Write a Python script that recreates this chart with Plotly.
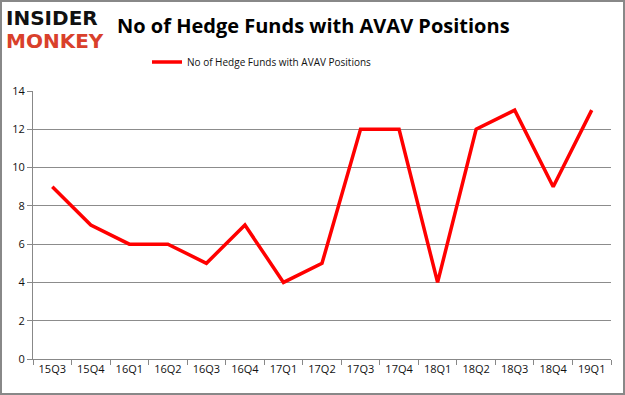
import plotly.graph_objects as go

quarters = ["15Q3", "15Q4", "16Q1", "16Q2", "16Q3", "16Q4", "17Q1", "17Q2",
            "17Q3", "17Q4", "18Q1", "18Q2", "18Q3", "18Q4", "19Q1"]
funds = [9, 7, 6, 6, 5, 7, 4, 5, 12, 12, 4, 12, 13, 9, 13]
series_name = "No of Hedge Funds with AVAV Positions"
title_text = "No of Hedge Funds with AVAV Positions"

W, H = 625, 395
L, R, T, B = 33, 14, 91, 36
PW, PH = W - L - R, H - T - B

fig = go.Figure()
fig.add_trace(go.Scatter(x=quarters, y=funds, mode="lines", name=series_name,
                         showlegend=True,
                         line=dict(color="#ff0000", width=3.5)))

fig.update_layout(
    width=W, height=H,
    margin=dict(l=L, r=R, t=T, b=B, autoexpand=False),
    paper_bgcolor="white", plot_bgcolor="white",
    font=dict(family="Open Sans, Arial", color="#222"),
    showlegend=True,
    legend=dict(orientation="h", x=(262 - L) / PW, xanchor="center",
                y=1 + (T - 62) / PH, yanchor="middle",
                font=dict(size=10, color="#111"),
                bgcolor="rgba(0,0,0,0)"),
    xaxis=dict(type="category", range=[-0.5, len(quarters) - 0.5],
               showgrid=False, showline=True, linecolor="#888",
               ticks="outside", tickson="boundaries", ticklen=5, tickcolor="#888",
               tickfont=dict(size=11, color="#111"), fixedrange=True),
    yaxis=dict(range=[0, 14], dtick=2, showgrid=True, gridcolor="#8c8c8c", gridwidth=1,
               showline=True, linecolor="#888", ticks="outside", ticklen=5,
               tickcolor="#888", zeroline=False,
               tickfont=dict(size=11, color="#111"), fixedrange=True),
)
fig.add_shape(type="rect", xref="paper", yref="paper",
              x0=-L / PW + 1 / PW, x1=1 + R / PW - 1 / PW,
              y0=-B / PH + 1 / PH, y1=1 + T / PH - 1 / PH,
              line=dict(color="#888", width=2))

fig.add_annotation(text="<b>INSIDER</b>", xref="paper", yref="paper",
                   x=(4 - L) / PW, y=1 + (T - 18) / PH, xanchor="left", yanchor="middle",
                   showarrow=False,
                   font=dict(family="DejaVu Sans", size=20, color="#111"))
fig.add_annotation(text="<b>MONKEY</b>", xref="paper", yref="paper",
                   x=(4 - L) / PW, y=1 + (T - 41) / PH, xanchor="left", yanchor="middle",
                   showarrow=False,
                   font=dict(family="DejaVu Sans", size=20, color="#d9402b"))
fig.add_annotation(text="<b>" + title_text + "</b>", xref="paper", yref="paper",
                   x=(313 - L) / PW, y=1 + (T - 25) / PH, xanchor="center", yanchor="middle",
                   showarrow=False, font=dict(family="Open Sans", size=20, color="#000"))

fig.write_html("out.html", config={"displayModeBar": False},
               post_script="document.body.style.margin='0';document.body.style.overflow='hidden';")
